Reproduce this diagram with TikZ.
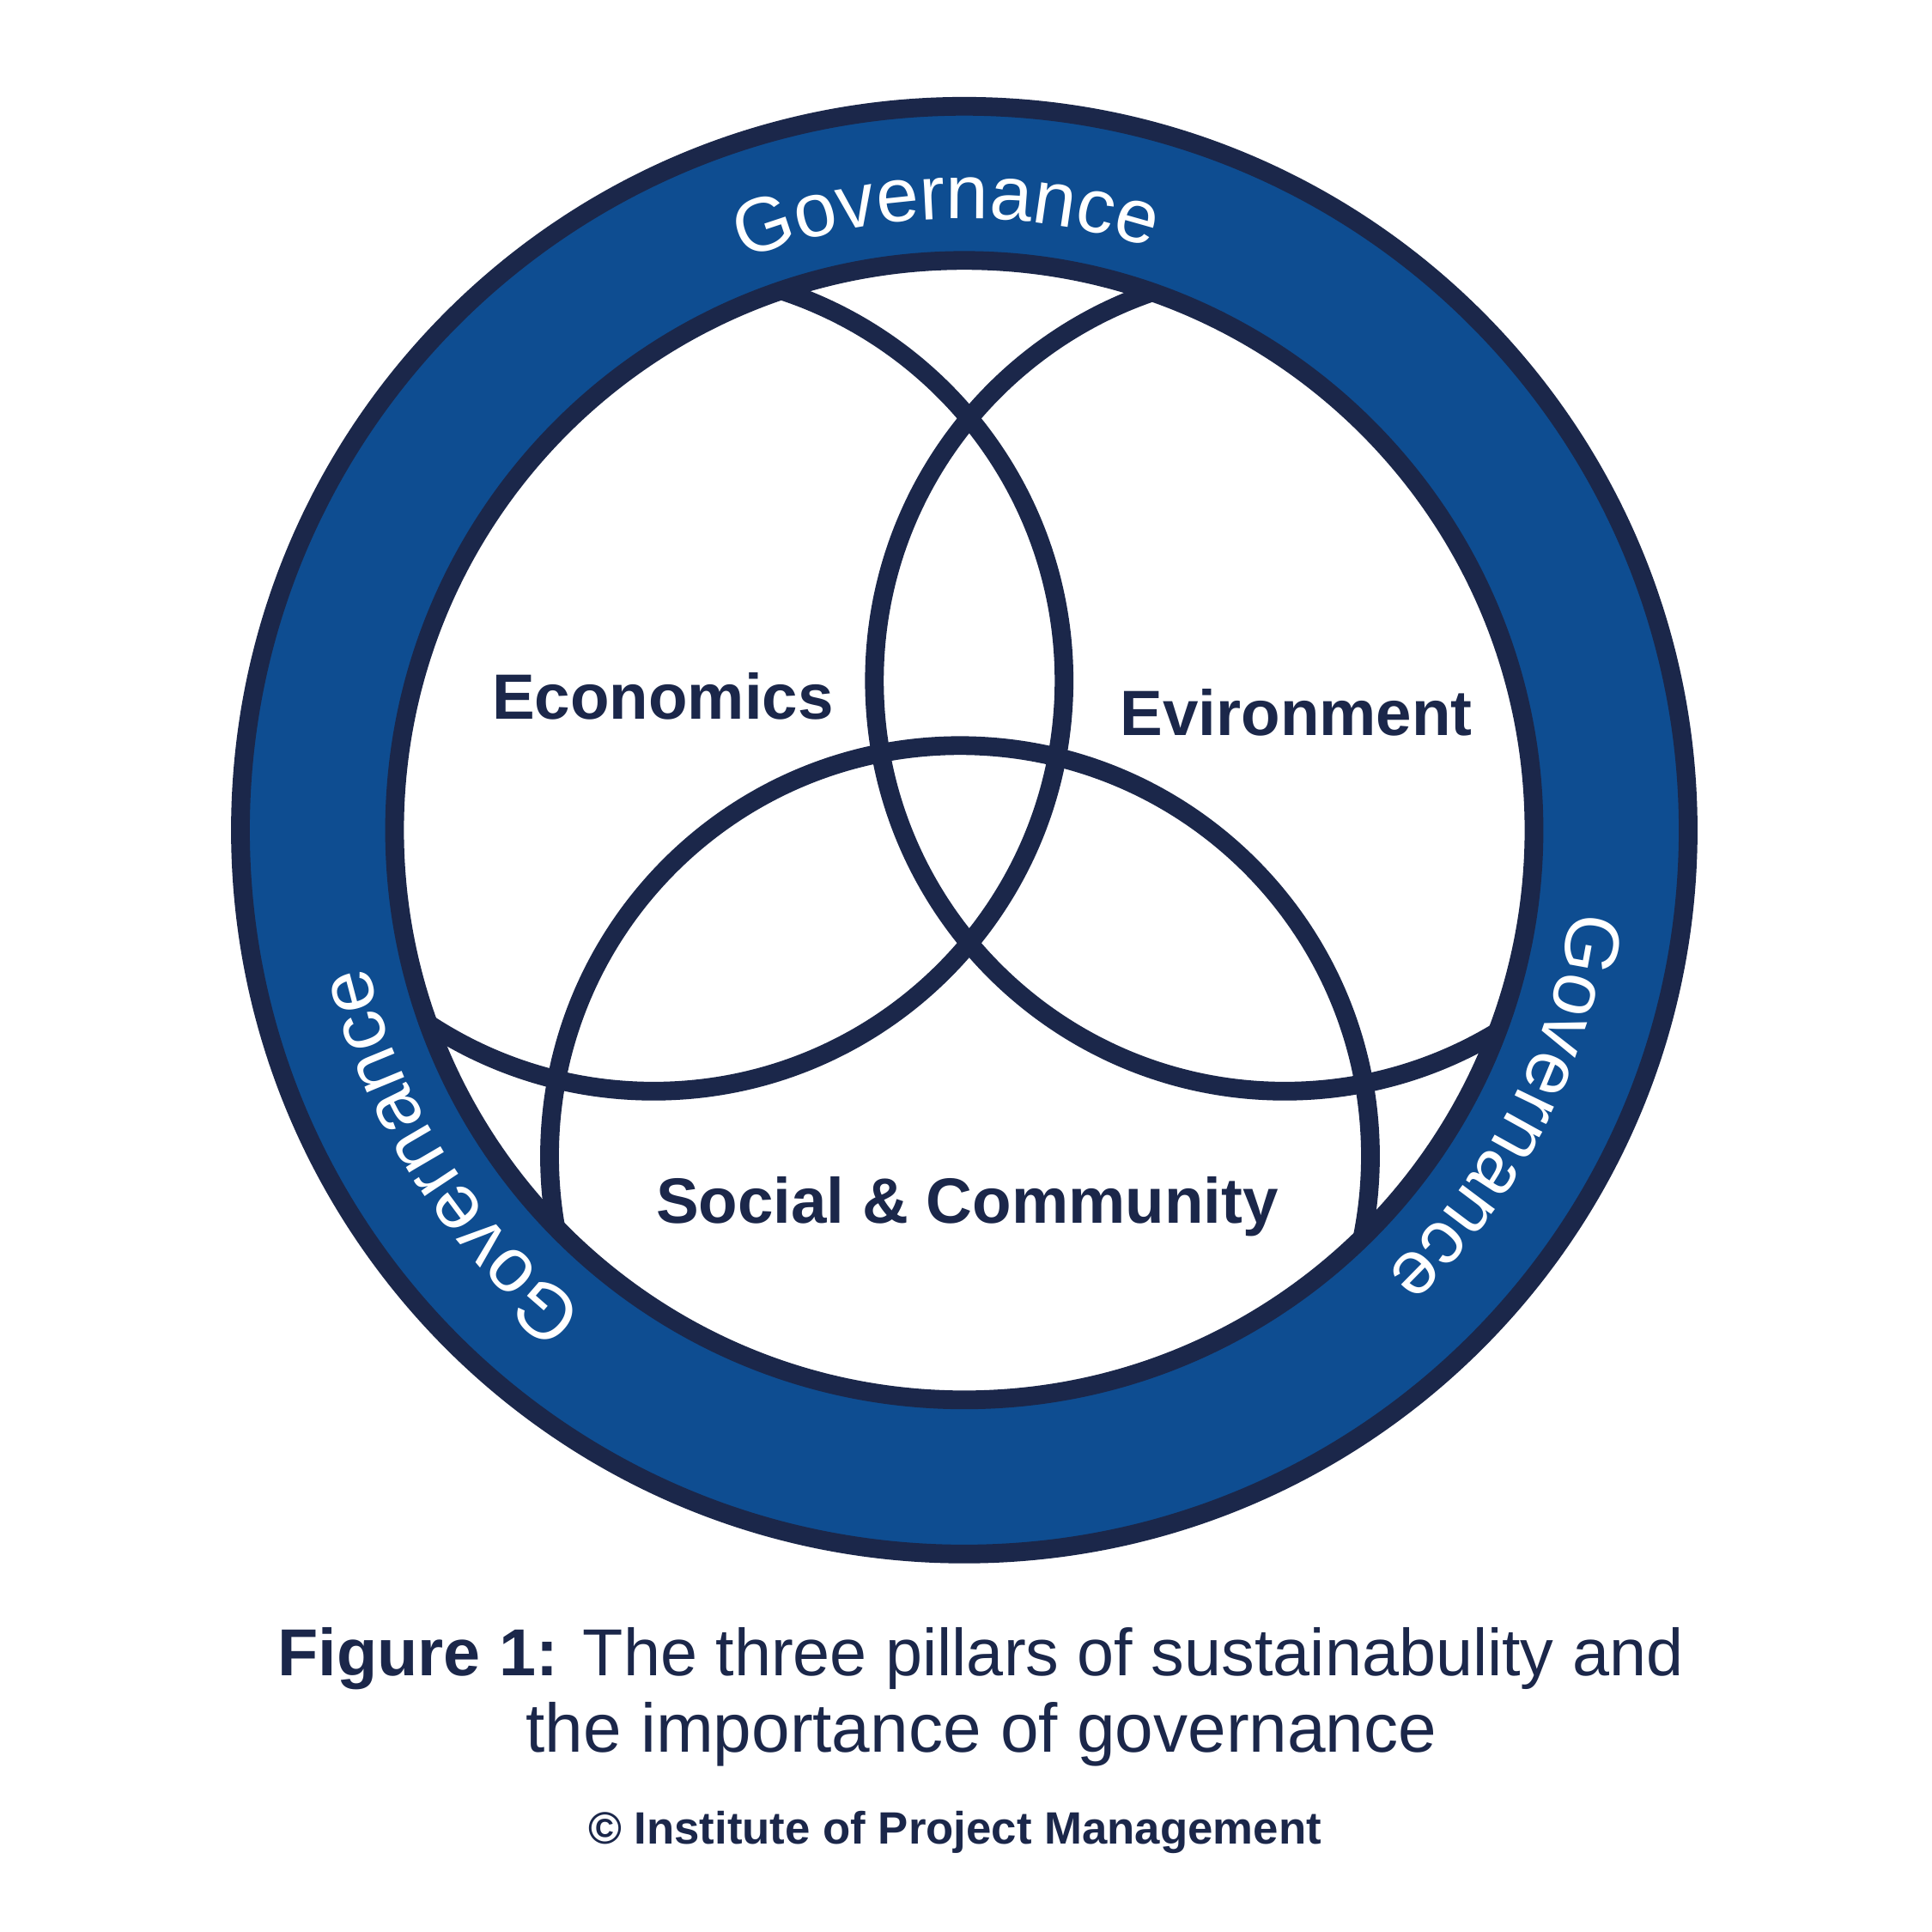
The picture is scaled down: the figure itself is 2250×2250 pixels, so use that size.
\documentclass[tikz,border=0pt]{standalone}
\usepackage{fontspec}
\setmainfont{Liberation Sans}
\usetikzlibrary{decorations.text}
\definecolor{navy}{HTML}{1B274A}
\definecolor{ringblue}{HTML}{0E4D91}
\newcommand\govfont{\fontsize{25.3}{30}\selectfont}
\begin{document}
\begin{tikzpicture}[x=0.01cm,y=0.01cm,
  pillar/.style={draw=navy,line width=6.2pt},
  ringline/.style={draw=navy,line width=6.2pt},
  pillarlabel/.style={text=navy,font=\fontsize{21.2}{25}\selectfont\bfseries,anchor=base,inner sep=0pt},
  captiontext/.style={text=navy,anchor=base,inner sep=0pt,font=\fontsize{22}{26}\selectfont},
  govpath/.style={decorate,decoration={text along path,text align=center,text color=white,text={|\govfont|Governance}}}]
\useasboundingbox[fill=white] (0,0) rectangle (2250,2250);
\coordinate (C) at (1123,1283.2);
\coordinate (E) at (761.2,1457.2);
\coordinate (V) at (1496.3,1457.2);
\coordinate (S) at (1118,903.7);
\begin{scope}
  \clip (C) circle[radius=663.5];
  \draw[pillar] (E) circle[radius=478];
  \draw[pillar] (V) circle[radius=478];
  \draw[pillar] (S) circle[radius=478];
\end{scope}
\fill[ringblue,even odd rule] (C) circle[radius=843] (C) circle[radius=663.5];
\draw[ringline] (C) circle[radius=843];
\draw[ringline] (C) circle[radius=663.5];
\path[govpath] ([shift={(131.7:712.5)}]C) arc[start angle=131.7,end angle=51.7,radius=712.5];
\path[govpath] ([shift={(13:712.5)}]C) arc[start angle=13,end angle=-67,radius=712.5];
\path[govpath] ([shift={(-107.7:712.5)}]C) arc[start angle=-107.7,end angle=-187.7,radius=712.5];
\node[pillarlabel] (econ) at (772,1412) {Economics};
\node[pillarlabel] (env) at (1509.6,1393.3) {Evironment};
\node[pillarlabel] (soc) at (1126.5,825) {Social \& Community};
\node[captiontext] (cap1) at (1142,298.4) {\textbf{Figure 1:} The three pillars of sustainabulity and};
\node[captiontext,font=\fontsize{22.8}{26}\selectfont] (cap2) at (1143,209.4) {the importance of governance};
\node[captiontext,font=\fontsize{15}{18}\selectfont\bfseries] (copy) at (1112,102) {© Institute of Project Management};
\end{tikzpicture}
\end{document}
